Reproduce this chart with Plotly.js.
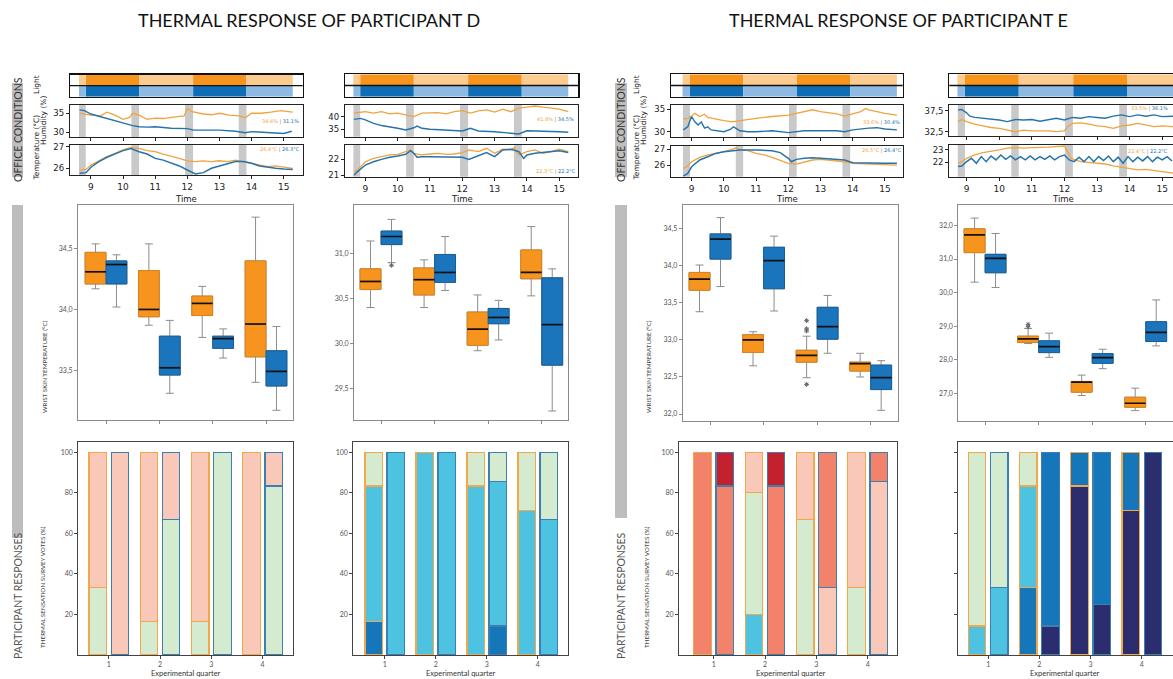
<!DOCTYPE html>
<html><head><meta charset="utf-8">
<script src="https://cdn.plot.ly/plotly-3.0.1.min.js"></script>
<style>html,body{margin:0;padding:0;background:#fff}#chart{width:1173px;height:679px}</style>
</head><body><div id="chart"></div>
<script>
const W=1173,H=679;
// ================= DATA =================
const quarters=[1,2,3,4];
const sensations=['Cold','Cool','Slightly cool','Neutral','Slightly warm','Warm','Hot'];
const timeTicks=[9,10,11,12,13,14,15];
// light schedule
const lightLevels=['low','high','low','high','low'];
const lightStartD=[8.63,8.84,10.5,12.18,13.84];
const lightEndD=[8.84,10.5,12.18,13.84,15.28];
const transStartD=[8.63,10.26,11.93,13.6];
const transEndD=[8.84,10.5,12.18,13.84];
const lightStartE=[8.72,8.95,10.6,12.27,13.92];
const lightEndE=[8.95,10.6,12.27,13.92,15.37];
const transStartE=[8.73,10.37,12.02,13.68];
const transEndE=[8.95,10.6,12.26,13.92];

// ---- Participant D, left ----
const tDLhA=[8.65,9.0,9.3,9.5,9.75,10.0,10.2,10.3,10.5,10.75,11.0,11.25,11.5,11.7,11.9,12.0,12.15,12.5,12.75,13.0,13.3,13.6,13.8,14.0,14.3,14.6,14.9,15.28];
const humDLA=[35.0,34.5,34.3,35.3,34.5,33.4,33.9,35.0,34.5,33.4,33.7,33.6,33.9,34.1,34.3,36.3,35.4,34.8,34.6,35.0,34.5,34.3,33.8,35.0,35.0,35.3,35.7,35.3];
const tDLhB=[8.65,8.8,9.0,9.25,9.5,9.75,10.0,10.3,10.5,10.75,11.0,11.5,12.0,12.2,12.5,13.0,13.5,13.8,14.0,14.5,15.0,15.25];
const humDLB=[35.9,35.7,34.8,34.2,33.7,33.0,32.3,31.7,31.4,31.3,31.4,31.0,30.9,30.5,30.5,30.5,30.2,29.8,30.1,29.8,29.6,30.2];
const tDLt=[8.65,8.85,9.0,9.25,9.5,9.75,10.0,10.25,10.5,10.75,11.0,11.25,11.5,11.75,12.0,12.25,12.5,12.75,13.0,13.25,13.5,13.75,14.0,14.25,14.5,14.75,15.0,15.28];
const tempDLA=[25.92,25.95,26.15,26.34,26.54,26.69,26.85,26.97,26.92,26.82,26.77,26.66,26.57,26.46,26.34,26.31,26.34,26.31,26.35,26.31,26.38,26.31,26.23,26.15,26.08,26.11,26.05,26.0];
const tempDLB=[25.77,25.8,26.05,26.31,26.51,26.65,26.82,26.92,26.77,26.66,26.46,26.38,26.23,26.11,25.92,25.74,25.8,26.0,26.11,26.2,26.31,26.31,26.23,26.11,26.05,26.0,25.97,25.95];

// ---- Participant D, right ----
const tDRhA=[8.65,9.0,9.25,9.5,9.75,10.0,10.25,10.5,10.75,11.0,11.25,11.5,11.75,12.0,12.25,12.5,12.75,13.0,13.25,13.5,13.75,14.0,14.25,14.5,14.75,15.0,15.28];
const humDRA=[41.4,42.0,41.4,42.0,41.1,41.4,40.7,40.0,41.4,41.4,41.6,41.1,42.0,42.4,41.4,42.3,42.7,41.8,43.0,42.0,43.4,43.8,44.3,43.8,43.4,43.0,42.0];
const tDRhB=[8.65,8.85,9.0,9.25,9.5,9.75,10.0,10.25,10.5,10.6,10.75,11.0,11.5,12.0,12.25,12.5,13.0,13.5,13.75,14.0,14.5,15.0,15.28];
const humDRB=[38.9,39.3,38.7,37.3,36.4,36.0,35.3,34.6,35.5,36.2,35.3,34.9,34.6,34.2,35.3,34.2,33.9,33.5,33.0,34.3,34.2,33.9,33.7];
const tDRtA=[8.65,8.75,9.0,9.25,9.5,9.75,10.0,10.25,10.4,10.5,10.75,11.0,11.25,11.5,11.75,12.0,12.2,12.5,12.75,13.0,13.25,13.5,13.6,13.75,14.0,14.25,14.5,14.75,15.0,15.28];
const tempDRA=[21.21,21.32,21.85,22.06,22.17,22.28,22.32,22.49,22.6,22.38,22.28,22.34,22.38,22.32,22.34,22.43,22.6,22.49,22.7,22.38,22.64,22.6,22.74,22.28,22.49,22.6,22.38,22.49,22.64,22.49];
const tDRtB=[8.65,8.75,9.0,9.25,9.5,9.75,10.0,10.25,10.4,10.5,10.6,10.75,11.0,11.5,12.0,12.2,12.4,12.75,13.0,13.25,13.5,13.75,13.9,14.0,14.25,14.5,14.75,15.0,15.28];
const tempDRB=[21.0,21.21,21.64,21.85,22.0,22.13,22.21,22.32,22.55,22.38,22.13,22.17,22.17,22.17,22.13,22.0,22.17,22.43,22.17,22.6,22.64,22.49,22.06,22.28,22.38,22.43,22.49,22.55,22.43];

// ---- Participant E, left ----
const tELhA=[8.74,8.9,9.0,9.1,9.25,9.4,9.5,9.75,10.0,10.25,10.5,10.75,11.0,11.5,12.0,12.25,12.5,12.75,13.0,13.25,13.5,13.75,14.0,14.25,14.4,14.5,14.75,15.0,15.37];
const humELA=[32.8,33.0,33.5,34.1,33.4,33.9,33.2,32.8,32.5,32.2,32.5,32.8,33.0,33.4,33.7,34.1,34.5,34.9,34.5,34.3,34.0,33.5,34.0,34.5,35.2,34.9,34.5,34.1,33.7];
const tELhB=[8.74,8.88,9.0,9.1,9.2,9.3,9.4,9.5,9.6,9.75,10.0,10.2,10.3,10.5,10.75,11.0,11.5,12.0,12.5,13.0,13.5,13.75,14.0,14.5,14.75,15.0,15.37];
const humELB=[30.4,31.1,33.4,32.2,31.5,32.2,30.8,31.1,30.4,30.2,30.0,30.5,31.1,30.2,30.0,30.0,30.2,29.8,30.2,30.2,30.2,30.0,30.4,30.8,30.9,30.6,30.4];
const tELtA=[8.74,8.85,9.0,9.25,9.5,9.75,10.0,10.25,10.4,10.5,10.75,11.0,11.25,11.5,11.75,12.0,12.25,12.5,12.75,13.0,13.25,13.5,13.75,14.0,14.5,15.0,15.37];
const tempELA=[25.79,25.89,26.21,26.49,26.64,26.74,26.85,27.0,27.11,26.96,26.91,26.74,26.64,26.49,26.32,26.11,26.06,26.21,26.32,26.36,26.32,26.28,26.21,26.11,26.06,26.04,26.0];
const tELtB=[8.74,8.88,9.0,9.25,9.5,9.75,10.0,10.25,10.5,11.0,11.5,11.75,12.0,12.1,12.25,12.5,12.75,13.0,13.5,13.75,14.0,14.5,15.0,15.37];
const tempELB=[25.3,25.47,25.89,26.32,26.53,26.74,26.85,26.91,26.96,26.96,26.91,26.79,26.43,26.21,26.36,26.43,26.47,26.43,26.36,26.32,26.15,26.11,26.11,26.11];

// ---- Participant E, right ----
const tERhA=[8.74,8.85,9.0,9.25,9.5,9.75,10.0,10.25,10.5,10.75,11.0,11.5,11.75,12.0,12.1,12.25,12.5,12.75,13.0,13.25,13.5,13.75,14.0,14.25,14.5,14.75,15.0,15.37];
const humERA=[34.9,35.4,34.9,34.3,33.9,33.5,33.3,32.9,32.5,32.9,32.7,32.7,32.5,32.7,33.7,34.5,34.6,34.3,33.9,33.7,33.3,33.9,34.1,34.5,34.1,33.7,33.9,33.7];
const tERhB=[8.74,8.85,9.0,9.1,9.25,9.5,9.75,10.0,10.25,10.5,10.75,11.0,11.25,11.5,11.75,12.0,12.25,12.5,12.75,13.0,13.25,13.5,13.75,14.0,14.25,14.5,14.75,15.0,15.37];
const humERB=[37.7,37.8,37.0,36.2,35.9,35.7,35.4,35.3,34.9,35.4,35.3,35.4,35.0,35.4,35.7,35.3,35.9,35.7,36.1,35.9,35.7,36.2,36.5,36.1,36.5,36.2,36.5,36.1,36.2];
const tERtA=[8.74,8.85,9.0,9.25,9.5,9.75,10.0,10.25,10.5,10.75,11.0,11.5,11.75,12.0,12.1,12.2,12.5,12.75,13.0,13.25,13.5,13.75,14.0,14.25,14.5,14.75,15.0,15.37];
const tempERA=[21.92,22.05,22.32,22.59,22.78,22.86,23.0,23.14,23.19,23.14,23.19,23.22,23.27,23.32,22.86,22.32,22.05,21.97,21.92,21.86,21.7,21.59,21.51,21.38,21.43,21.32,21.24,21.11];
const tERtB=[8.74,8.85,9.0,9.15,9.3,9.45,9.6,9.75,9.9,10.05,10.2,10.35,10.5,10.65,10.8,10.95,11.1,11.25,11.4,11.55,11.7,11.85,12.0,12.15,12.3,12.45,12.6,12.75,12.9,13.05,13.2,13.35,13.5,13.65,13.8,13.95,14.1,14.25,14.4,14.55,14.7,14.85,15.0,15.15,15.3];
const tempERB=[21.65,21.7,22.05,22.32,21.92,22.46,22.05,22.51,22.19,22.59,22.24,22.51,22.19,22.46,22.19,22.51,22.19,22.46,22.24,22.51,22.19,22.46,22.59,22.19,22.05,22.41,22.05,22.46,22.05,22.46,22.14,22.51,22.05,22.41,21.92,22.46,22.05,22.41,22.11,22.46,22.05,22.41,22.19,22.46,22.1];

// mean labels (orange | blue)
const meanHumD1=['34.4%','31.1%'], meanTempD1=['26.4°C','26.3°C'];
const meanHumD2=['41.9%','34.5%'], meanTempD2=['22.3°C','22.2°C'];
const meanHumE1=['33.6%','30.4%'], meanTempE1=['26.5°C','26.4°C'];
const meanHumE2=['33.5%','36.1%'], meanTempE2=['22.4°C','22.2°C'];

// ---- wrist skin temperature box statistics ----
const boxDL_A={lo:[34.17,33.87,33.77,33.40],q1:[34.21,33.94,33.95,33.61],med:[34.31,34.00,34.05,33.88],q3:[34.47,34.32,34.11,34.40],hi:[34.54,34.54,34.19,34.76]};
const boxDL_B={lo:[34.02,33.31,33.60,33.17],q1:[34.21,33.46,33.68,33.37],med:[34.37,33.52,33.76,33.49],q3:[34.40,33.78,33.78,33.66],hi:[34.45,33.91,33.84,33.86]};
const boxDR_A={lo:[30.40,30.40,29.92,30.53],q1:[30.60,30.54,29.98,30.72],med:[30.69,30.71,30.16,30.79],q3:[30.83,30.84,30.35,31.04],hi:[31.14,30.93,30.54,31.30]};
const boxDR_B={lo:[30.90,30.59,30.04,29.25],q1:[31.10,30.68,30.22,29.76],med:[31.19,30.79,30.29,30.21],q3:[31.25,30.99,30.39,30.73],hi:[31.38,31.19,30.48,30.83]};
const boxEL_A={lo:[33.38,32.65,32.49,32.50],q1:[33.67,32.83,32.70,32.58],med:[33.82,33.00,32.79,32.68],q3:[33.91,33.07,32.86,32.70],hi:[34.01,33.11,33.05,32.82]};
const boxEL_B={lo:[33.72,33.39,32.82,32.05],q1:[34.09,33.69,33.01,32.33],med:[34.36,34.07,33.18,32.49],q3:[34.43,34.25,33.44,32.66],hi:[34.65,34.40,33.60,32.72]};
const boxER_A={lo:[30.31,28.48,26.93,26.48],q1:[31.19,28.51,27.03,26.58],med:[31.72,28.62,27.33,26.70],q3:[31.90,28.70,27.35,26.88],hi:[32.22,28.93,27.54,27.15]};
const boxER_B={lo:[30.15,28.07,27.73,28.41],q1:[30.59,28.21,27.89,28.54],med:[31.02,28.39,28.06,28.81],q3:[31.14,28.56,28.18,29.13],hi:[31.76,28.79,28.31,29.78]};
// outliers: quarter, value
const outDR_B_q=[1], outDR_B_v=[30.87];
const outEL_A_q=[3,3,3,3], outEL_A_v=[33.26,33.15,33.12,32.40];
const outER_A_q=[2,2], outER_A_v=[29.05,28.98];

// ---- thermal sensation votes (%), per quarter: [cold,cool,sl.cool,neutral,sl.warm,warm,hot] ----
const votesDL_A=[[0,0,0,33.3,66.7,0,0],[0,0,0,16.7,83.3,0,0],[0,0,0,16.7,83.3,0,0],[0,0,0,0,100,0,0]];
const votesDL_B=[[0,0,0,0,100,0,0],[0,0,0,66.7,33.3,0,0],[0,0,0,100,0,0,0],[0,0,0,83.3,16.7,0,0]];
const votesDR_A=[[0,16.7,66.6,16.7,0,0,0],[0,0,100,0,0,0,0],[0,0,83.3,16.7,0,0,0],[0,0,71.4,28.6,0,0,0]];
const votesDR_B=[[0,0,100,0,0,0,0],[0,0,100,0,0,0,0],[0,14.3,71.4,14.3,0,0,0],[0,0,66.7,33.3,0,0,0]];
const votesEL_A=[[0,0,0,0,0,100,0],[0,0,20,60,20,0,0],[0,0,0,66.7,33.3,0,0],[0,0,0,33.3,66.7,0,0]];
const votesEL_B=[[0,0,0,0,0,83.3,16.7],[0,0,0,0,0,83.3,16.7],[0,0,0,0,33.3,66.7,0],[0,0,0,0,85.7,14.3,0]];
const votesER_A=[[0,0,14.3,85.7,0,0,0],[0,33.3,50,16.7,0,0,0],[83.3,16.7,0,0,0,0,0],[71.4,28.6,0,0,0,0,0]];
const votesER_B=[[0,0,33.3,66.7,0,0,0],[14.3,85.7,0,0,0,0,0],[25,75,0,0,0,0,0],[100,0,0,0,0,0,0]];

// ================= STYLE =================
const SENS_COL=['#2B2D6F','#1577B9','#4EC3E1','#D4EBD0','#F9C8B9','#F2836A','#C5202E'];
const ORANGE='#F7941D', BLUE='#1B75BC';
const LINE_OR='#F0A33F', LINE_BL='#2673AC';
const LIGHT_COL={A:{high:'#F7941D',low:'#FBCB8F'},B:{high:'#0F6DB5',low:'#8DBAE2'}};
const BOX_EDGE={A:'#D8841F',B:'#175F99'};
const BAR_EDGE={A:'#F2A848',B:'#3D7FAF'};
const BOX_OFF=0.196, BOX_W=0.39, BAR_OFF=0.216, BAR_W=0.34;

const layout={width:W,height:H,margin:{l:0,r:0,t:0,b:0},paper_bgcolor:'#fff',plot_bgcolor:'rgba(0,0,0,0)',
  showlegend:false,separators:',.',barmode:'stack',font:{family:'DejaVu Sans'},shapes:[],annotations:[]};
const traces=[];
let axN=0;
function addAxes(xpx,ypx,xo,yo){
  axN++; const s=axN===1?'':String(axN);
  layout['xaxis'+s]=Object.assign({domain:[xpx[0]/W,Math.min(1,xpx[1]/W)],anchor:'y'+s,showgrid:false,zeroline:false,fixedrange:true},xo);
  layout['yaxis'+s]=Object.assign({domain:[1-ypx[1]/H,1-ypx[0]/H],anchor:'x'+s,showgrid:false,zeroline:false,fixedrange:true},yo);
  return {x:'x'+s,y:'y'+s};
}
function ann(xp,yp,text,o){
  layout.annotations.push(Object.assign({xref:'paper',yref:'paper',x:xp/W,y:1-yp/H,text:text,showarrow:false,
    xanchor:'center',yanchor:'middle',font:{family:'Lato',size:8,color:'#333'}},o||{}));
}
function rect(x0,y0,x1,y1,color){
  layout.shapes.push({type:'rect',xref:'paper',yref:'paper',x0:x0/W,x1:x1/W,y0:1-y1/H,y1:1-y0/H,fillcolor:color,line:{width:0},layer:'below'});
}
const tsFrame=()=>({showline:true,mirror:true,linecolor:'#222',linewidth:1.1,ticks:'outside',ticklen:3,tickwidth:1,tickcolor:'#222',
  tickfont:{family:'DejaVu Sans',size:8.5,color:'#222'}});

function buildPanel(c){
  const ymir=c.cut?false:true;
  // ---- light panel
  const L=addAxes([c.tx0,c.tx1],c.ly,
    {range:c.trange,showline:true,mirror:true,linecolor:'#111',linewidth:1.4,ticks:'',showticklabels:false},
    {range:[0,2],showline:true,mirror:ymir,linecolor:'#111',linewidth:1.4,ticks:'',showticklabels:false});
  [['A',1],['B',0]].forEach(([g,row])=>{
    ['high','low'].forEach(lv=>{
      const xs=[],ys=[];
      c.lightStart.forEach((s,i)=>{ if(c.lightLevels[i]!==lv) return;
        xs.push(s,c.lightEnd[i],c.lightEnd[i],s,s,null); ys.push(row,row,row+1,row+1,row,null); });
      traces.push({type:'scatter',mode:'lines',xaxis:L.x,yaxis:L.y,x:xs,y:ys,fill:'toself',fillcolor:LIGHT_COL[g][lv],line:{width:0,color:LIGHT_COL[g][lv]},hoverinfo:'skip'});
    });
  });
  layout.shapes.push({type:'line',xref:L.x+' domain',yref:L.y+' domain',x0:0,x1:1,y0:0.5,y1:0.5,line:{color:'#111',width:1.3}});
  // ---- humidity
  const Hm=addAxes([c.tx0,c.tx1],c.hy,
    Object.assign(tsFrame(),{range:c.trange,tickvals:timeTicks,showticklabels:false}),
    Object.assign(tsFrame(),{range:c.hrange,tickvals:c.htick,mirror:ymir}));
  // ---- temperature
  const Tp=addAxes([c.tx0,c.tx1],c.ty,
    Object.assign(tsFrame(),{range:c.trange,tickvals:timeTicks,tickfont:{family:'DejaVu Sans',size:9,color:'#222'}}),
    Object.assign(tsFrame(),{range:c.temprange,tickvals:c.ttick,mirror:ymir}));
  [Hm,Tp].forEach(ax=>{
    c.transStart.forEach((s,i)=>layout.shapes.push({type:'rect',xref:ax.x,yref:ax.y+' domain',x0:s,x1:c.transEnd[i],y0:0,y1:1,
      fillcolor:'#C9C9C9',line:{width:0},layer:'below'}));
  });
  traces.push({type:'scatter',mode:'lines',xaxis:Hm.x,yaxis:Hm.y,x:c.hA[0],y:c.hA[1],line:{color:LINE_OR,width:1.3},hoverinfo:'skip'});
  traces.push({type:'scatter',mode:'lines',xaxis:Hm.x,yaxis:Hm.y,x:c.hB[0],y:c.hB[1],line:{color:LINE_BL,width:1.4},hoverinfo:'skip'});
  traces.push({type:'scatter',mode:'lines',xaxis:Tp.x,yaxis:Tp.y,x:c.tA[0],y:c.tA[1],line:{color:LINE_OR,width:1.3},hoverinfo:'skip'});
  traces.push({type:'scatter',mode:'lines',xaxis:Tp.x,yaxis:Tp.y,x:c.tB[0],y:c.tB[1],line:{color:LINE_BL,width:1.5},hoverinfo:'skip'});
  // mean labels
  const lab=(m)=>'<span style="color:'+LINE_OR+'">'+m[0]+'</span><span style="color:#777"> | </span><span style="color:'+LINE_BL+'">'+m[1]+'</span>';
  ann(c.hLab[0],c.hLab[1],lab(c.mH),{font:{family:'DejaVu Sans',size:5,color:'#777'},xanchor:c.cut?'right':'center'});
  ann(c.tLab[0],c.tLab[1],lab(c.mT),{font:{family:'DejaVu Sans',size:5,color:'#777'},xanchor:c.cut?'right':'center'});
  ann(c.timeX,199,'Time',{font:{family:'DejaVu Sans',size:8.5,color:'#222'}});

  // ---- box panel
  const bxFrame={showline:true,mirror:true,linecolor:'#8a8a8a',linewidth:1,ticks:'outside',ticklen:3,tickcolor:'#8a8a8a',
    tickfont:{family:'Lato',size:7,color:'#555'}};
  const B=addAxes(c.bx,c.by,
    Object.assign({},bxFrame,{range:c.bxr,tickvals:quarters,showticklabels:false}),
    Object.assign({},bxFrame,{range:c.byr,tickvals:c.byt,tickformat:'.1f',mirror:ymir}));
  [['A',-1,c.boxA],['B',1,c.boxB]].forEach(([g,sg,st])=>{
    const xs=quarters.map(q=>q+sg*BOX_OFF);
    const fill=g==='A'?ORANGE:BLUE;
    // whiskers
    traces.push({type:'box',orientation:'v',xaxis:B.x,yaxis:B.y,x:xs,q1:st.q1,median:st.med,q3:st.q3,lowerfence:st.lo,upperfence:st.hi,
      width:BOX_W,whiskerwidth:0.38,boxpoints:false,fillcolor:fill,line:{color:'#8c8c8c',width:1},hoverinfo:'skip'});
    // body
    traces.push({type:'box',orientation:'v',xaxis:B.x,yaxis:B.y,x:xs,q1:st.q1,median:st.med,q3:st.q3,lowerfence:st.q1,upperfence:st.q3,
      width:BOX_W,whiskerwidth:0,boxpoints:false,fillcolor:fill,line:{color:BOX_EDGE[g],width:1},hoverinfo:'skip'});
    // medians
    const mx=[],my=[];
    xs.forEach((x,i)=>{mx.push(x-BOX_W/2,x+BOX_W/2,null); my.push(st.med[i],st.med[i],null);});
    traces.push({type:'scatter',mode:'lines',xaxis:B.x,yaxis:B.y,x:mx,y:my,line:{color:'#111',width:1.7},hoverinfo:'skip'});
  });
  (c.outliers||[]).forEach(o=>{
    traces.push({type:'scatter',mode:'markers',xaxis:B.x,yaxis:B.y,x:o.q.map(q=>q+o.s*BOX_OFF),y:o.v,
      marker:{symbol:'asterisk-open',size:4,color:'#666',line:{color:'#666',width:1}},hoverinfo:'skip'});
  });

  // ---- bar panel
  const brFrame={showline:true,mirror:true,linecolor:'#444',linewidth:1,ticks:'outside',ticklen:3,tickcolor:'#444',
    tickfont:{family:'Lato',size:7,color:'#555'}};
  const R=addAxes(c.rx,[442.3,655],
    Object.assign({},brFrame,{range:c.rxr,tickvals:quarters}),
    Object.assign({},brFrame,{range:[0,104.9],tickvals:[20,40,60,80,100],showticklabels:!c.noYLab,mirror:ymir}));
  sensations.forEach((sname,k)=>{
    [['A',-1,c.votesA],['B',1,c.votesB]].forEach(([g,sg,v])=>{
      traces.push({type:'bar',xaxis:R.x,yaxis:R.y,x:quarters.map(q=>q+sg*BAR_OFF),y:v.map(r=>r[k]>0?r[k]:null),width:BAR_W,name:sname,
        marker:{color:SENS_COL[k],line:{color:BAR_EDGE[g],width:1.2}},hoverinfo:'skip'});
    });
  });
  ann(c.eqX,673,'Experimental quarter',{font:{family:'Lato',size:7.5,color:'#333'}});
}

buildPanel({tx0:70,tx1:302.7,ly:[74.7,96.7],hy:[105,137.3],ty:[145,175],trange:[8.35,15.59],
  hrange:[28.6,37.2],htick:[30,35],temprange:[25.69,27.08],ttick:[26,27],
  lightStart:lightStartD,lightEnd:lightEndD,lightLevels:lightLevels,transStart:transStartD,transEnd:transEndD,
  hA:[tDLhA,humDLA],hB:[tDLhB,humDLB],tA:[tDLt,tempDLA],tB:[tDLt,tempDLB],mH:meanHumD1,mT:meanTempD1,hLab:[280,121],tLab:[280,149],timeX:186,
  bx:[78,293],by:[205,420],bxr:[0.475,4.506],byr:[33.09,34.86],byt:[33.5,34,34.5],boxA:boxDL_A,boxB:boxDL_B,
  rx:[78.3,293.3],rxr:[0.404,4.6],votesA:votesDL_A,votesB:votesDL_B,eqX:186});
buildPanel({tx0:345,tx1:578.3,ly:[74.3,96.7],hy:[105,136.7],ty:[145,176.7],trange:[8.37,15.59],
  hrange:[31.9,44.7],htick:[35,40],temprange:[20.9,22.91],ttick:[21,22],
  lightStart:lightStartD,lightEnd:lightEndD,lightLevels:lightLevels,transStart:transStartD,transEnd:transEndD,
  hA:[tDRhA,humDRA],hB:[tDRhB,humDRB],tA:[tDRtA,tempDRA],tB:[tDRtB,tempDRB],mH:meanHumD2,mT:meanTempD2,hLab:[555,119],tLab:[556,171],timeX:462,
  bx:[354,568.3],by:[205,420],bxr:[0.496,4.496],byr:[29.15,31.54],byt:[29.5,30,30.5,31],boxA:boxDR_A,boxB:boxDR_B,
  outliers:[{q:outDR_B_q,v:outDR_B_v,s:1}],
  rx:[353.3,568.3],rxr:[0.384,4.6],votesA:votesDR_A,votesB:votesDR_B,eqX:461});
buildPanel({tx0:671,tx1:902.7,ly:[74.3,96.7],hy:[105,137.3],ty:[146,176.7],trange:[8.36,15.55],
  hrange:[28.75,35.97],htick:[30,35],temprange:[25.26,27.21],ttick:[26,27],
  lightStart:lightStartE,lightEnd:lightEndE,lightLevels:lightLevels,transStart:transStartE,transEnd:transEndE,
  hA:[tELhA,humELA],hB:[tELhB,humELB],tA:[tELtA,tempELA],tB:[tELtB,tempELB],mH:meanHumE1,mT:meanTempE1,hLab:[881,122],tLab:[882,150],timeX:787,
  bx:[682.7,897.7],by:[205,420.7],bxr:[0.49,4.505],byr:[31.91,34.82],byt:[32,32.5,33,33.5,34,34.5],boxA:boxEL_A,boxB:boxEL_B,
  outliers:[{q:outEL_A_q,v:outEL_A_v,s:-1}],
  rx:[679,896.7],rxr:[0.325,4.565],votesA:votesEL_A,votesB:votesEL_B,eqX:791});
buildPanel({tx0:949.3,tx1:1173,ly:[74.3,96.7],hy:[105,136],ty:[145,176.7],trange:[8.47,15.33],cut:true,
  hrange:[31.48,38.86],htick:[32.5,37.5],temprange:[20.83,23.4],ttick:[22,23],
  lightStart:lightStartE,lightEnd:lightEndE,lightLevels:lightLevels,transStart:transStartE,transEnd:transEndE,
  hA:[tERhA,humERA],hB:[tERhB,humERB],tA:[tERtA,tempERA],tB:[tERtB,tempERB],mH:meanHumE2,mT:meanTempE2,hLab:[1170,108],tLab:[1170,151],timeX:1063,
  bx:[958.3,1173],by:[205,420.7],bxr:[0.5,4.51],byr:[26.18,32.61],byt:[27,28,29,30,31,32],boxA:boxER_A,boxB:boxER_B,
  outliers:[{q:outER_A_q,v:outER_A_v,s:-1}],
  rx:[957.7,1173],rxr:[0.404,4.61],votesA:votesER_A,votesB:votesER_B,noYLab:true,eqX:1065});

// ---- titles & side labels ----
ann(309,20,'THERMAL RESPONSE OF PARTICIPANT D',{font:{family:'Lato',size:18,color:'#111'}});
ann(898,20,'THERMAL RESPONSE OF PARTICIPANT E',{font:{family:'Lato',size:18,color:'#111'}});
[[12,23,538,18],[615,627,518,621]].forEach(([a,b,end,cx])=>{
  rect(a,83,b,177,'#BDBDBD');
  rect(a,205,b,end,'#BDBDBD');
  ann(cx,130,'OFFICE CONDITIONS',{textangle:-90,font:{family:'Lato',size:10.5,color:'#333'}});
  ann(cx,596,'PARTICIPANT RESPONSES',{textangle:-90,font:{family:'Lato',size:10.5,color:'#555'}});
});
[0,600].forEach((dx)=>{
  ann(36+dx,85,'Light',{textangle:-90,font:{family:'DejaVu Sans',size:7.5,color:'#222'}});
  ann(43+dx,121,'Humidity (%)',{textangle:-90,font:{family:'DejaVu Sans',size:7.5,color:'#222'}});
  ann(35.5+dx,148,'Temperature (°C)',{textangle:-90,font:{family:'DejaVu Sans',size:7.5,color:'#222'}});
  ann(44+dx+(dx?4:0),367,'WRIST SKIN TEMPERATURE (°C)',{textangle:-90,font:{family:'Lato',size:6.3,color:'#444'}});
  ann(42+dx+(dx?4:0),587,'THERMAL SENSATION SURVEY VOTES (%)',{textangle:-90,font:{family:'Lato',size:6.3,color:'#444'}});
});

Plotly.newPlot('chart',traces,layout,{staticPlot:true,displayModeBar:false});
</script></body></html>
